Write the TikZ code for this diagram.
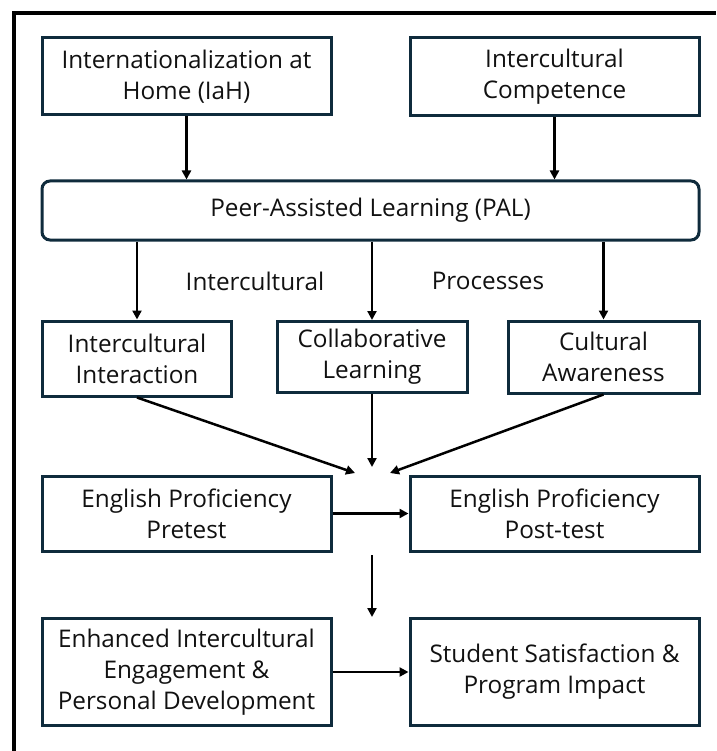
\documentclass[tikz,border=0pt]{standalone}
\usepackage{fontspec}
\setmainfont{Open Sans}
\usetikzlibrary{arrows.meta}
\definecolor{boxline}{HTML}{0F2B3C}
\definecolor{ink}{HTML}{111111}
\tikzset{
  box/.style={draw=boxline, line width=3pt, fill=white, align=center,
    inner sep=0pt, text=ink, font=\fontsize{24.3}{31}\selectfont},
  palbox/.style={box, rounded corners=8pt},
  link/.style={line width=2.5pt, draw=black,
    -{Triangle[length=9pt,width=9pt]}},
  tag/.style={text=ink, font=\fontsize{24.3}{31}\selectfont, inner sep=0pt}
}
\begin{document}
\begin{tikzpicture}[x=1pt, y=-1pt]
  \useasboundingbox (0,0) rectangle (716,751);
  % frame (left and top edges)
  \draw[line width=3.5pt, black] (14,751) -- (14,13) -- (716,13);

  % top inputs
  \node[box, minimum width=289pt, minimum height=77pt] (iah) at (186.5,76.5)
    {Internationalization at\\Home (IaH)};
  \node[box, minimum width=289pt, minimum height=78pt] (ic) at (554.5,77)
    {Intercultural\\Competence};

  % central process
  \node[palbox, minimum width=657pt, minimum height=59pt] (pal) at (370.5,210.5)
    {Peer-Assisted Learning (PAL)};

  % intercultural processes
  \node[box, minimum width=189pt, minimum height=75pt] (ii) at (137,358.5)
    {Intercultural\\Interaction};
  \node[box, minimum width=190pt, minimum height=71pt] (cl) at (372,357)
    {Collaborative\\Learning};
  \node[box, minimum width=191pt, minimum height=72pt] (ca) at (603.5,357)
    {Cultural\\Awareness};

  \node[tag] (t1) at (255,281) {Intercultural};
  \node[tag] (t2) at (488,281) {Processes};

  % proficiency tests
  \node[box, minimum width=289pt, minimum height=75pt] (pre) at (186.5,513.5)
    {English Proficiency\\Pretest};
  \node[box, minimum width=289pt, minimum height=75pt] (post) at (554.5,513.5)
    {English Proficiency\\Post-test};

  % outcomes
  \node[box, minimum width=289pt, minimum height=107pt] (enh) at (186.5,672)
    {Enhanced Intercultural\\Engagement \&\\Personal Development};
  \node[box, minimum width=289pt, minimum height=107pt] (ssp) at (554.5,672)
    {Student Satisfaction \&\\Program Impact};

  % loose arrow ends
  \coordinate (mL) at (355,473);
  \coordinate (mC) at (372,467);
  \coordinate (mR) at (390,473);
  \coordinate (dTop) at (372,555);
  \coordinate (dBot) at (372,617);

  % connectors
  \draw[link] (iah.south) -- (iah.south |- pal.north);
  \draw[link] (ic.south) -- (ic.south |- pal.north);
  \draw[link] (pal.south -| ii.north) -- (ii.north);
  \draw[link] (pal.south -| cl.north) -- (cl.north);
  \draw[link] (pal.south -| ca.north) -- (ca.north);
  \draw[link] (ii.south) -- (mL);
  \draw[link] (cl.south) -- (mC);
  \draw[link] (ca.south) -- (mR);
  \draw[link] (pre.east) -- (post.west);
  \draw[link] (dTop) -- (dBot);
  \draw[link] (enh.east) -- (ssp.west);
\end{tikzpicture}
\end{document}
